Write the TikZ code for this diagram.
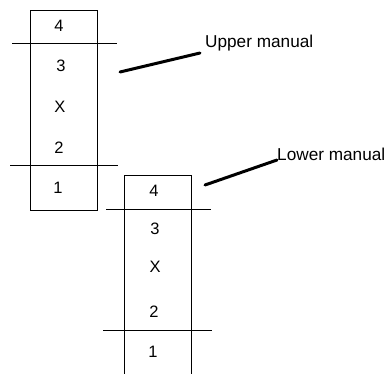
\documentclass[tikz,border=0pt]{standalone}
\usepackage{fontspec}
\setmainfont{Liberation Sans}
\begin{document}
\begin{tikzpicture}[x=1pt,y=-1pt,
  frame/.style={draw=black,line width=0.9pt},
  divider/.style={draw=black,line width=0.9pt},
  pointer/.style={draw=black,line width=3pt,line cap=round},
  stop/.style={font=\fontsize{16.5}{17}\selectfont,inner sep=0pt,anchor=center},
  caption/.style={font=\fontsize{17.2}{18}\selectfont,inner sep=0pt,anchor=west}]
\useasboundingbox (0,0) rectangle (390,373);

% upper manual column
\draw[frame] (30,10) rectangle (97,210);
\draw[divider] (12,43) -- (117,43);
\draw[divider] (10,165) -- (118,165);
\node[stop] (u4) at (59,26) {4};
\node[stop] (u3) at (61,66) {3};
\node[stop] (ux) at (60,107) {X};
\node[stop] (u2) at (59,148) {2};
\node[stop] (u1) at (58,188) {1};

% lower manual column (runs off the bottom edge)
\draw[frame] (124,380) -- (124,175) -- (191,175) -- (191,380);
\draw[divider] (106,209) -- (211,209);
\draw[divider] (103,330) -- (212,330);
\node[stop] (l4) at (154,191) {4};
\node[stop] (l3) at (155,229) {3};
\node[stop] (lx) at (155,267) {X};
\node[stop] (l2) at (154,312) {2};
\node[stop] (l1) at (153,352) {1};

% labels with their pointer strokes
\node[caption] (upper) at (205,43) {Upper manual};
\node[caption] (lower) at (277,154) {Lower manual};
\coordinate (utail) at (120,72);
\coordinate (ltail) at (205,185);
\draw[pointer] (utail) -- (200,53) coordinate (uhead);
\draw[pointer] (ltail) -- (277,160) coordinate (lhead);
\end{tikzpicture}
\end{document}
